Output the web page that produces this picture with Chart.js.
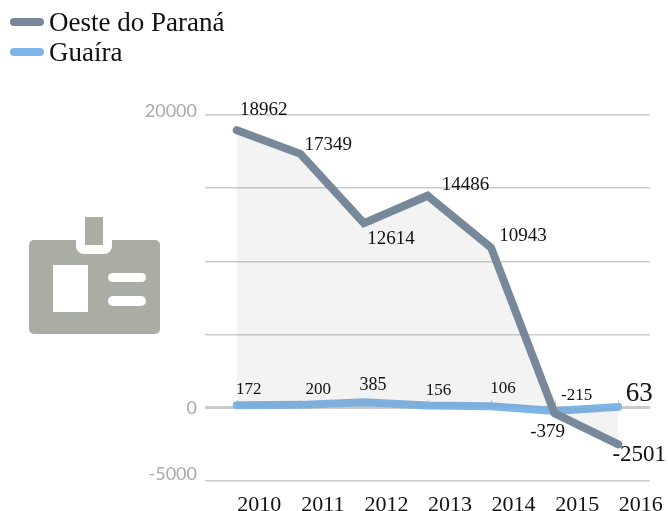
<!DOCTYPE html>
<html>
<head>
<meta charset="utf-8">
<style>
    html, body { margin: 0; padding: 0; background: #fff; }
    #wrap { position: relative; width: 668px; height: 511px; overflow: hidden; }
    #chart { display: block; }
    #legend { position: absolute; left: 10px; top: 7px; font: 27px "Liberation Serif", serif; color: #111; }
    #legend div { display: flex; align-items: center; height: 30px; }
    #legend span { display: block; width: 34px; height: 8px; border-radius: 4px; margin-right: 5px; }
    #icon { position: absolute; left: 0; top: 0; }
</style>
</head>
<body>
<div id="wrap">
    <canvas id="chart" width="668" height="511" style="width:668px;height:511px"></canvas>
    <svg id="icon" width="668" height="511">
        <rect x="29" y="240" width="131" height="94" rx="5" fill="#a9ada4"/>
        <path d="M76 238h36v8a8 8 0 0 1-8 8h-20a8 8 0 0 1-8-8z" fill="#fff"/>
        <rect x="85" y="217" width="18" height="28" fill="#a9ada4"/>
        <rect x="53" y="265" width="35" height="47" fill="#fff"/>
        <rect x="108" y="273" width="38" height="9" rx="4.5" fill="#fff"/>
        <rect x="108" y="296" width="38" height="10" rx="5" fill="#fff"/>
    </svg>
    <div id="legend"></div>
</div>
<script src="https://cdn.jsdelivr.net/npm/chart.js@4/dist/chart.umd.min.js"></script>
<script>
// Chart values
const years = ['2010', '2011', '2012', '2013', '2014', '2015', '2016'];
const oesteName = 'Oeste do Paraná';
const guairaName = 'Guaíra';
const oesteValues = [18962, 17349, 12614, 14486, 10943, -379, -2501];
const guairaValues = [172, 200, 385, 156, 106, -215, 63];
const yTickLabels = { '20000': '20000', '0': '0', '-5000': '-5000' };

// Label placement relative to each point, [dx, dy, font size]
const oesteLabelStyle = [[27, -20, 19], [28, -9, 19], [27, 16, 19], [38, -11, 19], [32, -12, 19], [-7, 19, 19], [21, 11, 23]];
const guairaLabelStyle = [[12, -16, 17], [18, -15, 17], [9, -17, 18], [11, -15, 17], [12, -18, 17], [22, -15, 17], [21, -13, 27]];

const SERIF = '"Liberation Serif", serif';

// Small marks above the zero line and the value labels
const valueLabels = {
    id: 'valueLabels',
    beforeDatasetsDraw(chart) {
        const ctx = chart.ctx;
        const zero = chart.scales.y.getPixelForValue(0);
        ctx.save();
        ctx.strokeStyle = '#cfcfcf';
        ctx.lineWidth = 1;
        years.forEach((_, i) => {
            const x = Math.round(chart.scales.x.getPixelForValue(i)) + 0.5;
            ctx.beginPath();
            ctx.moveTo(x, zero - 8);
            ctx.lineTo(x, zero);
            ctx.stroke();
        });
        ctx.restore();
    },
    afterDatasetsDraw(chart) {
        const ctx = chart.ctx;
        const draw = (values, style) => {
            values.forEach((v, i) => {
                ctx.font = style[i][2] + 'px ' + SERIF;
                ctx.fillText(String(v),
                    chart.scales.x.getPixelForValue(i) + style[i][0],
                    chart.scales.y.getPixelForValue(v) + style[i][1]);
            });
        };
        ctx.save();
        ctx.fillStyle = '#111';
        ctx.textAlign = 'center';
        ctx.textBaseline = 'middle';
        draw(oesteValues, oesteLabelStyle);
        draw(guairaValues, guairaLabelStyle);
        ctx.restore();
    }
};

const datasets = [
    {
        label: oesteName,
        data: oesteValues,
        borderColor: '#76889a',
        backgroundColor: 'rgba(120, 120, 120, 0.09)',
        borderWidth: 8,
        borderCapStyle: 'round',
        fill: 'origin',
        pointRadius: 0,
        tension: 0,
        clip: false
    },
    {
        label: guairaName,
        data: guairaValues,
        borderColor: '#7fb5e6',
        borderWidth: 8,
        borderCapStyle: 'round',
        fill: false,
        pointRadius: 0,
        tension: 0,
        clip: false
    }
];

// Legend in two stacked rows, top left
const legendEl = document.getElementById('legend');
datasets.forEach(ds => {
    const row = document.createElement('div');
    const swatch = document.createElement('span');
    swatch.style.background = ds.borderColor;
    row.appendChild(swatch);
    row.appendChild(document.createTextNode(ds.label));
    legendEl.appendChild(row);
});

new Chart(document.getElementById('chart'), {
    type: 'line',
    data: { labels: years, datasets: datasets },
    plugins: [valueLabels],
    options: {
        responsive: false,
        maintainAspectRatio: false,
        animation: false,
        layout: { padding: { top: 115, right: 18, bottom: 0, left: 0 } },
        plugins: { legend: { display: false }, tooltip: { enabled: false } },
        scales: {
            x: {
                offset: true,
                border: { display: false },
                grid: { display: false, offset: true },
                afterFit(scale) { scale.height = 30; },
                ticks: {
                    maxRotation: 0,
                    autoSkip: false,
                    color: '#111',
                    padding: 3,
                    labelOffset: 22.5,
                    font: { family: SERIF, size: 22 }
                }
            },
            y: {
                min: -5000,
                max: 20000,
                border: { display: false },
                afterFit(scale) { scale.width = 205; },
                grid: {
                    color: '#cccccc',
                    drawTicks: false,
                    lineWidth: ctx => (ctx.tick && ctx.tick.value === 0 ? 3 : 1.5)
                },
                ticks: {
                    stepSize: 5000,
                    autoSkip: false,
                    padding: 8,
                    color: '#aaaaaa',
                    // the blank second row lifts the label above its grid line
                    font: ctx => ({
                        family: 'Lato, sans-serif',
                        size: 18,
                        lineHeight: ctx.tick && ctx.tick.value === 20000 ? '8px' : '14px'
                    }),
                    callback(value) {
                        const text = yTickLabels[String(value)];
                        if (text === undefined) return '';
                        return value === 0 ? text : [text, ' '];
                    }
                }
            }
        }
    }
});
</script>
</body>
</html>
